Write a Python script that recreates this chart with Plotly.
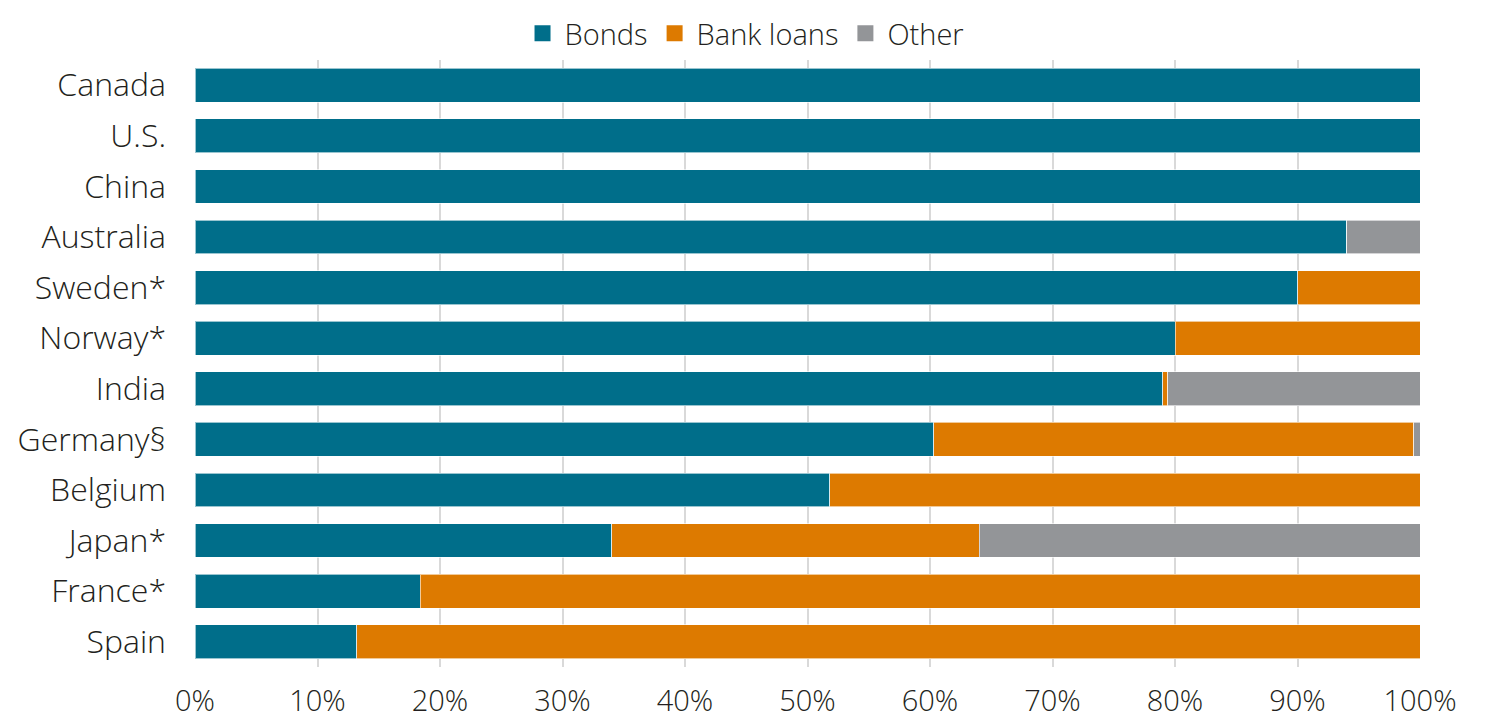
import plotly.graph_objects as go

countries = ["Canada", "U.S.", "China", "Australia", "Sweden*", "Norway*", "India",
             "Germany§", "Belgium", "Japan*", "France*", "Spain"]
bonds = [100, 100, 100, 94.0, 90.0, 80.0, 79.0, 60.3, 51.8, 34.0, 18.4, 13.2]
bank_loans = [0, 0, 0, 0, 10.0, 20.0, 0.4, 39.2, 48.2, 30.0, 81.6, 86.8]
other = [0, 0, 0, 6.0, 0, 0, 20.6, 0.5, 0, 36.0, 0, 0]
x_ticks = [0, 10, 20, 30, 40, 50, 60, 70, 80, 90, 100]
x_tick_labels = [f"{v}%" for v in x_ticks]

series = [("Bonds", bonds, "#006E8A"),
          ("Bank loans", bank_loans, "#DD7A00"),
          ("Other", other, "#939598")]

fig = go.Figure()
for name, vals, color in series:
    fig.add_trace(go.Bar(
        y=countries, x=vals, name=name, orientation="h", showlegend=False,
        marker=dict(color=color, line=dict(color="rgba(255,255,255,0.6)", width=1)),
    ))
# legend entries with large square swatches
for name, vals, color in series:
    fig.add_trace(go.Scatter(
        x=[None], y=[None], name=name, mode="markers",
        marker=dict(symbol="square", size=20, color=color),
    ))

font_family = "Open Sans, Roboto, sans-serif"
fig.update_layout(
    barmode="stack",
    bargap=0.33,
    width=1477, height=714,
    margin=dict(l=187, r=65, t=52, b=55, autoexpand=False),
    plot_bgcolor="white", paper_bgcolor="white",
    font=dict(family=font_family, size=29, color="#231F20", weight=300),
    legend=dict(orientation="h", xref="paper", yref="container",
                x=0.449, xanchor="center", y=1.0, yanchor="top",
                font=dict(size=29, weight=300), traceorder="normal",
                itemsizing="trace", tracegroupgap=0, itemwidth=34),
    showlegend=True,
)
fig.update_xaxes(
    range=[0, 100], tickvals=x_ticks, ticktext=x_tick_labels,
    showgrid=True, gridcolor="#D9D9D9", gridwidth=2, automargin=False,
    zeroline=False, showline=False, ticks="", ticklabelstandoff=14,
    tickfont=dict(size=29, weight=300),
)
fig.update_yaxes(
    categoryorder="array", categoryarray=countries, autorange="reversed",
    showgrid=False, ticks="", ticklabelstandoff=28, automargin=False,
    tickfont=dict(size=32, weight=300),
)

fig.write_html("out.html")
